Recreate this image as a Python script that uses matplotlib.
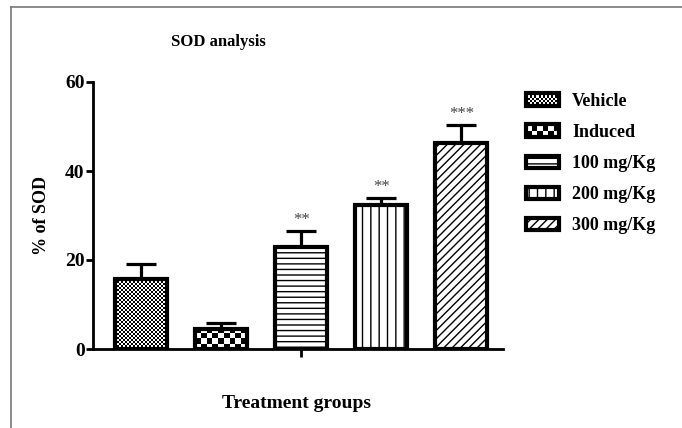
import numpy as np
import matplotlib
matplotlib.use("Agg")
import matplotlib.pyplot as plt
from matplotlib.patches import Rectangle
from matplotlib.legend_handler import HandlerPatch
from matplotlib.lines import Line2D

# data
groups = ["Vehicle", "Induced", "100 mg/Kg", "200 mg/Kg", "300 mg/Kg"]
means = [15.7, 4.6, 23.0, 32.3, 46.4]
errors = [3.5, 1.3, 3.6, 1.6, 4.0]
stars = ["", "", "**", "**", "***"]
fills = ["checker_fine", "checker_big", "---", "||", "////"]

plt.rcParams['font.family'] = ['Liberation Serif', 'DejaVu Serif']
plt.rcParams['font.weight'] = 'bold'
plt.rcParams['axes.labelweight'] = 'bold'
plt.rcParams['hatch.linewidth'] = 1.0

fig = plt.figure(figsize=(6.82, 4.28), dpi=100)
ax = fig.add_axes([93 / 682, 1 - 349 / 428, 410 / 682, 267 / 428])

x = np.arange(len(groups))
ax.set_xlim(-0.606, 4.52)
ax.set_ylim(0, 60)

bars = []
for i in range(len(groups)):
    is_checker = fills[i].startswith("checker")
    b = ax.bar(x[i], means[i], width=0.65, color="none" if is_checker else "white",
               edgecolor="black", linewidth=3,
               hatch=None if is_checker else fills[i], zorder=3)[0]
    bars.append(b)

ax.errorbar(x, means, yerr=[np.zeros(len(means)), errors], fmt="none",
            ecolor="black", elinewidth=2.3, capsize=11, capthick=2.3, zorder=2)


def checker(bar, cell):
    bb = bar.get_window_extent()
    ncol = max(1, int(round(bb.width / cell)))
    nrow = max(1, int(round(bb.height / cell)))
    ii, jj = np.indices((nrow, ncol))
    arr = (ii + jj) % 2
    im = ax.imshow(arr, cmap="gray", extent=[bar.get_x(), bar.get_x() + bar.get_width(),
                   0, bar.get_height()], aspect="auto", interpolation="nearest",
                   zorder=2.8, vmin=0, vmax=1)
    im.set_clip_path(bar)


checker(bars[0], 2.0)
checker(bars[1], 5.5)
ax.set_xlim(-0.606, 4.52)
ax.set_ylim(0, 60)

for i in range(len(groups)):
    if stars[i]:
        ax.annotate(stars[i], (x[i], means[i] + errors[i]), xytext=(0, 2),
                    textcoords="offset points", ha="center", va="bottom",
                    fontsize=12, fontweight="normal", color="#444444")

for s in ["top", "right"]:
    ax.spines[s].set_visible(False)
ax.spines["left"].set_linewidth(2)
ax.spines["bottom"].set_linewidth(2)
ax.set_yticks([0, 20, 40, 60])
ax.set_xticks([2])
ax.set_xticklabels([""])
ax.tick_params(axis="y", length=5, width=2, pad=1, labelsize=14)
ax.tick_params(axis="x", length=6, width=2)

ax.set_ylabel("% of SOD", fontsize=13)
ax.yaxis.set_label_coords(-0.105, 0.5)
fig.text(218 / 682, 1 - 42 / 428, "SOD analysis", ha="center", va="center", fontsize=12)
fig.text(297 / 682, 1 - 403 / 428, "Treatment groups", ha="center", va="center", fontsize=14)


class CheckerHandler(HandlerPatch):
    def __init__(self, cell):
        super().__init__()
        self.cell = cell

    def create_artists(self, legend, orig_handle, xdescent, ydescent, width, height, fontsize, trans):
        arts = [Rectangle((-xdescent, -ydescent), width, height, facecolor="white",
                          edgecolor="none", transform=trans)]
        n_c = int(width / self.cell)
        n_r = max(1, int(height / self.cell))
        cw, ch = width / n_c, height / n_r
        for r in range(n_r):
            for c in range(n_c):
                if (r + c) % 2 == 0:
                    arts.append(Rectangle((-xdescent + c * cw, -ydescent + r * ch), cw, ch,
                                          facecolor="black", edgecolor="none", transform=trans))
        arts.append(Rectangle((-xdescent, -ydescent), width, height, facecolor="none",
                              edgecolor="black", linewidth=3, transform=trans))
        return arts


handles = []
hmap = {}
for i, g in enumerate(groups):
    if fills[i].startswith("checker"):
        h = Rectangle((0, 0), 1, 1, facecolor="white", edgecolor="black")
        hmap[h] = CheckerHandler(1.5 if fills[i] == "checker_fine" else 4.0)
    else:
        h = Rectangle((0, 0), 1, 1, facecolor="white", edgecolor="black",
                      linewidth=3, hatch=fills[i])
    handles.append(h)

fig.legend(handles, groups, loc="upper left", bbox_to_anchor=(526 / 682, 1 - 93 / 428),
           frameon=False, fontsize=13, handlelength=1.85, handleheight=0.7,
           handletextpad=0.7, labelspacing=0.78, borderpad=0, borderaxespad=0,
           handler_map=hmap)

# outer frame lines (top and left)
fig.add_artist(Line2D([11 / 682, 1], [1 - 7 / 428, 1 - 7 / 428], color="#777777", lw=1.2,
                      transform=fig.transFigure))
fig.add_artist(Line2D([11 / 682, 11 / 682], [0, 1 - 7 / 428], color="#777777", lw=1.2,
                      transform=fig.transFigure))

fig.savefig("out.png", dpi=100)
